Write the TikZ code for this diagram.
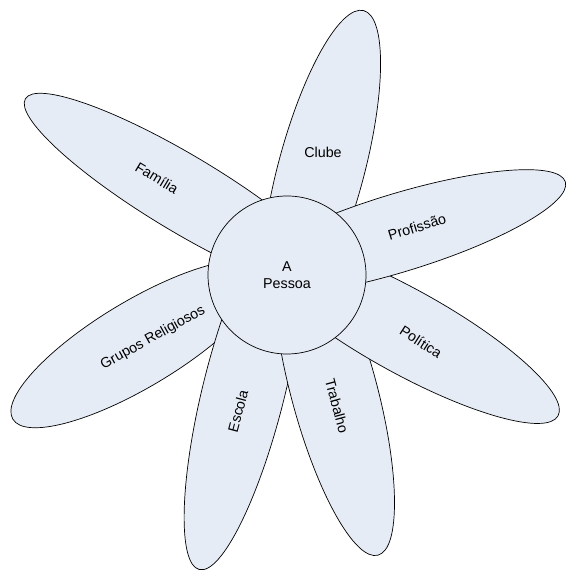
\documentclass[tikz,border=0pt]{standalone}
\usepackage{fontspec}
\setmainfont{Liberation Sans}
\usetikzlibrary{shapes.geometric}
\definecolor{petalfill}{RGB}{230,236,246}
\begin{document}
\begin{tikzpicture}[x=1pt,y=1pt,
  petal/.style={ellipse,draw=black,line width=0.7pt,fill=petalfill,inner sep=0pt},
  lbl/.style={font=\fontsize{14.3}{17}\selectfont,inner sep=0pt,align=center}]
\useasboundingbox (0,0) rectangle (566,575);
% petals (back to front)
\node[petal,minimum width=370,minimum height=76,rotate=-31] (familia) at (184,381) {};
\node[petal,minimum width=330,minimum height=86,rotate=75] (clube) at (321,405) {};
\node[petal,minimum width=292,minimum height=86,rotate=31] (grupos) at (138,231) {};
\node[petal,minimum width=370,minimum height=82,rotate=76] (escola) at (244,185) {};
\node[petal,minimum width=340,minimum height=86,rotate=-75] (trabalho) at (334,184) {};
\node[petal,minimum width=350,minimum height=84,rotate=-29] (politica) at (405,244) {};
\node[petal,minimum width=350,minimum height=78,rotate=17] (profissao) at (398,342) {};
% centre
\node[circle,draw=black,line width=0.7pt,fill=petalfill,minimum size=158,inner sep=0pt] (pessoa) at (287,300) {};
% labels
\node[lbl] (tpessoa) at (287,300) {A\\Pessoa};
\node[lbl,rotate=-31] (tfamilia) at (157,397) {Família};
\node[lbl] (tclube) at (323,423) {Clube};
\node[lbl,rotate=17] (tprofissao) at (417,348) {Profissão};
\node[lbl,rotate=-33] (tpolitica) at (421,233) {Política};
\node[lbl,rotate=-75] (ttrabalho) at (337,169) {Trabalho};
\node[lbl,rotate=75] (tescola) at (238,164) {Escola};
\node[lbl,rotate=29] (tgrupos) at (153,237) {Grupos Religiosos};
\end{tikzpicture}
\end{document}
